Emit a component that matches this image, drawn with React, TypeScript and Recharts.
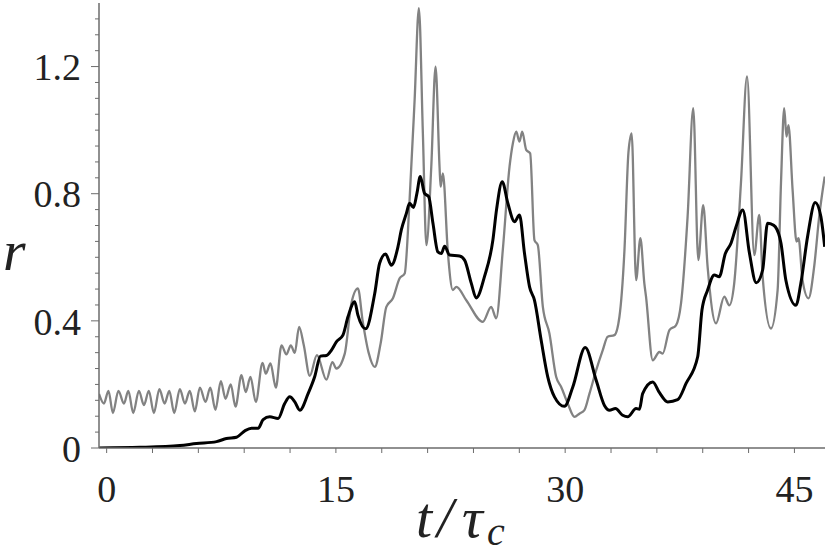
import { LineChart, Line, XAxis, YAxis } from 'recharts'

// r(t) traces, time in units of tau_c
const grayT = [
  -0.5, -0.18, 0.12, 0.41, 0.77, 1.13, 1.42, 1.74, 2.11, 2.44,
  2.76, 3.09, 3.45, 3.79, 4.1, 4.42, 4.79, 5.12, 5.44, 5.77,
  6.1, 6.47, 6.78, 7.12, 7.47, 7.78, 8.12, 8.43, 8.82, 9.1,
  9.41, 9.76, 10.2, 10.41, 10.72, 11.07, 11.44, 11.76, 12.05, 12.31,
  12.59, 12.9, 13.29, 13.76, 14.38, 14.77, 15.03, 15.58, 16.01, 16.44,
  16.75, 17.14, 17.54, 17.93, 18.3, 18.73, 19.17, 19.5, 19.82, 20.15,
  20.43, 20.69, 20.92, 21.24, 21.52, 21.78, 21.85, 22.0, 22.33, 22.65,
  22.88, 23.53, 24.61, 25.16, 25.49, 25.92, 26.36, 26.58, 26.8, 27.01,
  27.19, 27.45, 27.71, 27.99, 28.21, 28.54, 28.97, 29.41, 29.74, 30.17,
  30.61, 30.93, 31.26, 31.59, 32.03, 32.46, 32.78, 33.22, 33.55, 33.88,
  34.14, 34.35, 34.64, 34.92, 35.18, 35.29, 35.73, 36.16, 36.38, 36.82,
  37.25, 37.58, 38.01, 38.38, 38.71, 39.03, 39.32, 39.87, 40.41, 40.74,
  41.06, 41.5, 41.9, 42.37, 42.7, 42.92, 43.46, 43.9, 44.12, 44.33,
  44.48, 44.61, 44.88, 45.14, 45.27, 45.53, 45.92, 46.29, 46.62, 46.98,
]
const grayR = [
  0.17, 0.14, 0.18, 0.11, 0.18, 0.14, 0.18, 0.11, 0.18, 0.135,
  0.18, 0.11, 0.185, 0.14, 0.18, 0.11, 0.185, 0.14, 0.18, 0.115,
  0.19, 0.145, 0.19, 0.12, 0.21, 0.155, 0.2, 0.13, 0.229, 0.176,
  0.224, 0.145, 0.268, 0.234, 0.266, 0.19, 0.323, 0.295, 0.323, 0.299,
  0.381, 0.323, 0.227, 0.292, 0.215, 0.27, 0.25, 0.297, 0.455, 0.502,
  0.4, 0.3, 0.255, 0.33, 0.444, 0.471, 0.534, 0.549, 0.78, 1.095,
  1.384, 0.99, 0.638, 0.885, 1.2, 0.885, 0.822, 0.864, 0.612, 0.497,
  0.507, 0.465, 0.397, 0.444, 0.408, 0.623, 0.885, 0.959, 0.995, 0.964,
  0.995, 0.938, 0.927, 0.654, 0.638, 0.444, 0.36, 0.224, 0.192, 0.14,
  0.098, 0.108, 0.119, 0.171, 0.245, 0.308, 0.35, 0.355, 0.413, 0.623,
  0.93, 0.99, 0.528, 0.66, 0.518, 0.476, 0.276, 0.302, 0.297, 0.371,
  0.386, 0.455, 0.728, 1.069, 0.591, 0.764, 0.57, 0.392, 0.476, 0.449,
  0.518, 0.833, 1.169, 0.607, 0.733, 0.539, 0.376, 0.497, 0.833, 1.069,
  0.98, 1.016, 0.812, 0.649, 0.66, 0.528, 0.471, 0.57, 0.728, 0.854,
]

const blackT = [
  -0.5, 2.18, 4.79, 5.88, 7.19, 7.84, 8.5, 9.04, 9.48, 9.91,
  10.24, 10.67, 11.22, 11.65, 11.98, 12.31, 12.64, 13.18, 13.61, 13.99,
  14.38, 14.71, 15.03, 15.46, 15.79, 16.23, 16.44, 16.95, 17.54, 17.86,
  18.25, 18.63, 19.06, 19.28, 19.61, 19.82, 20.08, 20.3, 20.52, 20.8,
  21.07, 21.35, 21.67, 21.9, 22.11, 22.44, 23.09, 23.42, 23.86, 24.18,
  24.72, 25.27, 25.51, 25.88, 26.25, 26.69, 27.01, 27.34, 27.67, 27.99,
  28.43, 28.86, 29.3, 29.95, 30.5, 31.31, 32.03, 32.57, 32.9, 33.29,
  33.76, 34.09, 34.64, 34.86, 35.07, 35.73, 36.16, 36.71, 37.36, 37.91,
  38.67, 38.95, 39.32, 39.76, 40.08, 40.48, 40.85, 41.18, 41.62, 42.05,
  42.5, 42.92, 43.24, 43.46, 43.75, 44.12, 44.44, 45.1, 45.42, 45.86,
  46.36, 46.73, 46.98,
]
const blackR = [
  0.0, 0.002, 0.008, 0.014, 0.02, 0.03, 0.034, 0.054, 0.062, 0.062,
  0.089, 0.098, 0.093, 0.14, 0.161, 0.145, 0.119, 0.171, 0.224, 0.289,
  0.291, 0.308, 0.334, 0.355, 0.413, 0.46, 0.418, 0.375, 0.486, 0.581,
  0.61, 0.575, 0.633, 0.686, 0.738, 0.77, 0.757, 0.801, 0.854, 0.801,
  0.791, 0.707, 0.617, 0.612, 0.635, 0.607, 0.604, 0.591, 0.518, 0.472,
  0.539, 0.654, 0.75, 0.838, 0.77, 0.712, 0.733, 0.612, 0.507, 0.465,
  0.339, 0.224, 0.161, 0.131, 0.192, 0.316, 0.213, 0.134, 0.119, 0.124,
  0.103, 0.098, 0.124, 0.122, 0.171, 0.208, 0.175, 0.145, 0.152, 0.203,
  0.287, 0.434, 0.497, 0.544, 0.539, 0.612, 0.644, 0.696, 0.749, 0.615,
  0.52, 0.56, 0.707, 0.705, 0.696, 0.644, 0.528, 0.449, 0.518, 0.665,
  0.772, 0.728, 0.633,
]

const xTicks = [0, 3, 6, 9, 12, 15, 18, 21, 24, 27, 30, 33, 36, 39, 42, 45]
const xLabels = [0, 15, 30, 45]
const yTicks = [
  0, 0.05, 0.1, 0.15, 0.2, 0.25, 0.3, 0.35, 0.4, 0.45, 0.5, 0.55, 0.6, 0.65, 0.7,
  0.75, 0.8, 0.85, 0.9, 0.95, 1.0, 1.05, 1.1, 1.15, 1.2, 1.25, 1.3, 1.35,
]
const yLabels = [0, 0.4, 0.8, 1.2]

const grayData = grayT.map((t, i) => ({ t, r: grayR[i] }))
const blackData = blackT.map((t, i) => ({ t, r: blackR[i] }))

const W = 833
const H = 556
const serif = '"Liberation Serif", "Times New Roman", serif'
const axisColor = '#6b6b6b'

function YTick({ x, y, payload }: any) {
  const major = yLabels.includes(payload.value)
  return (
    <g>
      <line x1={x - (major ? 8 : 4)} x2={x} y1={y} y2={y} stroke={axisColor} strokeWidth={1} />
      {major && (
        <text x={x - 18} y={y} dy="0.36em" textAnchor="end" fontFamily={serif} fontSize={38} fill="#222">
          {String(payload.value)}
        </text>
      )}
    </g>
  )
}

function XTick({ x, y, payload }: any) {
  const major = xLabels.includes(payload.value)
  return (
    <g>
      <line x1={x} x2={x} y1={y} y2={y + 5} stroke={axisColor} strokeWidth={1} />
      {major && (
        <text x={x} y={y + 54} textAnchor="middle" fontFamily={serif} fontSize={38} fill="#222">
          {String(payload.value)}
        </text>
      )}
    </g>
  )
}

export default function App() {
  return (
    <div style={{ position: 'absolute', left: 0, top: 0, width: W, height: H, background: '#fff' }}>
      <LineChart width={W} height={H} margin={{ top: 3, right: 8, bottom: 0, left: 0 }}>
        <XAxis
          dataKey="t"
          type="number"
          domain={[-0.5, 47]}
          allowDataOverflow
          ticks={xTicks}
          interval={0}
          height={108}
          tickSize={0}
          tickMargin={0}
          tickLine={false}
          tick={<XTick />}
          axisLine={{ stroke: axisColor, strokeWidth: 1.5 }}
        />
        <XAxis
          xAxisId="top"
          orientation="top"
          type="number"
          domain={[-0.5, 47]}
          height={0}
          tick={false}
          tickLine={false}
          axisLine={{ stroke: '#aaaaaa', strokeWidth: 1.2 }}
        />
        <YAxis
          dataKey="r"
          type="number"
          domain={[0, 1.4]}
          allowDataOverflow
          ticks={yTicks}
          interval={0}
          width={99}
          tickSize={0}
          tickMargin={0}
          tickLine={false}
          tick={<YTick />}
          axisLine={{ stroke: axisColor, strokeWidth: 1.5 }}
        />
        <YAxis
          yAxisId="right"
          orientation="right"
          type="number"
          domain={[0, 1.4]}
          width={0}
          tick={false}
          tickLine={false}
          axisLine={{ stroke: '#999999', strokeWidth: 1.2 }}
        />
        <Line
          data={grayData}
          dataKey="r"
          type="monotone"
          stroke="#828282"
          strokeWidth={2.3}
          dot={false}
          isAnimationActive={false}
        />
        <Line
          data={blackData}
          dataKey="r"
          type="monotone"
          stroke="#000"
          strokeWidth={3}
          dot={false}
          isAnimationActive={false}
        />
      </LineChart>
      <svg
        width={W}
        height={H}
        style={{ position: 'absolute', left: 0, top: 0, pointerEvents: 'none' }}
      >
        <text x={3} y={270} fontFamily={serif} fontStyle="italic" fontSize={58} fill="#222">
          r
        </text>
        <text y={537} fontFamily={serif} fontStyle="italic" fontSize={58} fill="#222">
          <tspan x={416}>t</tspan>
          <tspan x={437}>/</tspan>
          <tspan x={462}>τ</tspan>
          <tspan x={487} dy={8} fontSize={40}>c</tspan>
        </text>
      </svg>
    </div>
  )
}
